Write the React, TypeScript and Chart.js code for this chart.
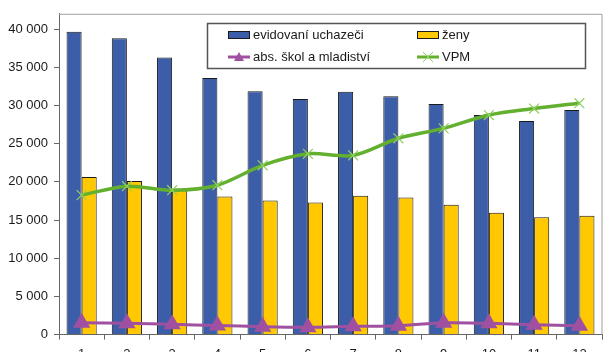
import React, { useEffect, useRef } from 'react';
import { Chart, registerables } from 'chart.js';

Chart.register(...registerables);

const categories = ['1', '2', '3', '4', '5', '6', '7', '8', '9', '10', '11', '12'];
const evidovani = [39650, 38800, 36270, 33580, 31860, 30860, 31800, 31200, 30200, 28740, 27960, 29390];
const zeny = [20640, 20100, 19100, 18090, 17570, 17310, 18170, 17960, 17000, 15960, 15360, 15570];
const absolventi = [1550, 1470, 1340, 1200, 1030, 950, 1080, 1160, 1550, 1470, 1290, 1160];
const vpm = [18260, 19430, 18900, 19560, 22160, 23670, 23450, 25700, 27000, 28740, 29600, 30300];
const seriesLabels = ['evidovaní uchazeči', 'ženy', 'abs. škol a mladiství', 'VPM'];
const yTickValues = [0, 5000, 10000, 15000, 20000, 25000, 30000, 35000, 40000];
const yMax = 42000;

const BLUE = '#3c5ea9';
const YELLOW = '#ffc800';
const PURPLE = '#a050a0';
const GREEN = '#63b02f';
const GREEN_MARK = '#8fd060';
const FONT = '"Liberation Sans", Arial, sans-serif';

const fmt = (v: number) => String(v).replace(/\B(?=(\d{3})+(?!\d))/g, ' ');

const framePlugin = {
  id: 'frame',
  afterDraw(chart: any) {
    const { ctx, chartArea } = chart;
    ctx.save();
    ctx.strokeStyle = '#a0a0a0';
    ctx.lineWidth = 1;
    ctx.beginPath();
    ctx.moveTo(chartArea.left, chartArea.top + 0.5);
    ctx.lineTo(chartArea.right, chartArea.top + 0.5);
    ctx.lineTo(chartArea.right, chartArea.bottom);
    ctx.stroke();

    // legend box
    const bx = 207.5, by = 23.5, bw = 378, bh = 45;
    ctx.fillStyle = '#ffffff';
    ctx.fillRect(bx, by, bw, bh);
    ctx.strokeStyle = '#555555';
    ctx.lineWidth = 1.5;
    ctx.strokeRect(bx, by, bw, bh);

    const items = [
      { x: 228, y: 35, type: 'bar', color: BLUE, label: seriesLabels[0] },
      { x: 417, y: 35, type: 'bar', color: YELLOW, label: seriesLabels[1] },
      { x: 228, y: 57, type: 'tri', color: PURPLE, label: seriesLabels[2] },
      { x: 417, y: 57, type: 'x', color: GREEN, label: seriesLabels[3] },
    ];
    ctx.font = `13px ${FONT}`;
    ctx.textBaseline = 'middle';
    ctx.textAlign = 'left';
    for (const it of items) {
      if (it.type === 'bar') {
        ctx.fillStyle = it.color;
        ctx.fillRect(it.x, it.y - 3.5, 22, 7);
        ctx.strokeStyle = '#1a1a1a';
        ctx.lineWidth = 1;
        ctx.strokeRect(it.x + 0.5, it.y - 3.5, 21, 7);
      } else {
        ctx.strokeStyle = it.color;
        ctx.lineWidth = 3;
        ctx.beginPath();
        ctx.moveTo(it.x, it.y);
        ctx.lineTo(it.x + 22, it.y);
        ctx.stroke();
        const cx = it.x + 11;
        if (it.type === 'tri') {
          ctx.fillStyle = it.color;
          ctx.beginPath();
          ctx.moveTo(cx, it.y - 5);
          ctx.lineTo(cx + 5, it.y + 4);
          ctx.lineTo(cx - 5, it.y + 4);
          ctx.closePath();
          ctx.fill();
        } else {
          ctx.strokeStyle = GREEN_MARK;
          ctx.lineWidth = 1;
          ctx.beginPath();
          ctx.moveTo(cx - 5, it.y - 5);
          ctx.lineTo(cx + 5, it.y + 5);
          ctx.moveTo(cx + 5, it.y - 5);
          ctx.lineTo(cx - 5, it.y + 5);
          ctx.stroke();
        }
      }
      ctx.fillStyle = '#1a1a1a';
      ctx.fillText(it.label, it.x + 25, it.y + 0.5);
    }
    ctx.restore();
  },
};

export default function App() {
  const ref = useRef<HTMLCanvasElement | null>(null);

  useEffect(() => {
    if (!ref.current) return;
    const chart = new Chart(ref.current, {
      type: 'bar',
      data: {
        labels: categories,
        datasets: [
          {
            type: 'bar',
            label: seriesLabels[0],
            data: evidovani,
            backgroundColor: BLUE,
            borderColor: '#1a1a1a',
            borderWidth: 1,
            categoryPercentage: 2 / 3,
            barPercentage: 1,
            order: 2,
          },
          {
            type: 'bar',
            label: seriesLabels[1],
            data: zeny,
            backgroundColor: YELLOW,
            borderColor: '#1a1a1a',
            borderWidth: 1,
            categoryPercentage: 2 / 3,
            barPercentage: 1,
            order: 2,
          },
          {
            type: 'line',
            label: seriesLabels[2],
            data: absolventi,
            borderColor: PURPLE,
            backgroundColor: PURPLE,
            borderWidth: 3,
            pointStyle: 'triangle',
            pointRadius: 7,
            pointBackgroundColor: PURPLE,
            pointBorderColor: PURPLE,
            tension: 0.3,
            order: 1,
          },
          {
            type: 'line',
            label: seriesLabels[3],
            data: vpm,
            borderColor: GREEN,
            backgroundColor: GREEN,
            borderWidth: 3.5,
            pointStyle: 'crossRot',
            pointRadius: 7,
            pointBorderColor: GREEN_MARK,
            pointBorderWidth: 1.2,
            tension: 0.3,
            order: 0,
          },
        ],
      } as any,
      options: {
        responsive: false,
        animation: false,
        devicePixelRatio: 1,
        layout: { padding: { left: 0, right: 5, top: 11, bottom: 0 } },
        plugins: { legend: { display: false }, tooltip: { enabled: false } },
        scales: {
          x: {
            grid: { offset: true, drawOnChartArea: false, tickLength: 5, color: '#666' },
            border: { color: '#666', width: 1 },
            ticks: { padding: 7, color: '#1a1a1a', font: { family: FONT, size: 13 } },
            afterFit: (s: any) => { s.height = 35.4; },
          },
          y: {
            min: 0,
            max: yMax,
            grid: { drawOnChartArea: false, tickLength: 5, color: '#666' },
            border: { color: '#666', width: 1 },
            ticks: {
              padding: 6,
              color: '#1a1a1a',
              font: { family: FONT, size: 13 },
              callback: (v: any) => fmt(Number(v)),
            },
            afterBuildTicks: (s: any) => { s.ticks = yTickValues.map((v) => ({ value: v })); },
            afterFit: (s: any) => { s.width = 59; },
          },
        },
      } as any,
      plugins: [framePlugin],
    });
    return () => chart.destroy();
  }, []);

  return (
    <div style={{ position: 'fixed', left: 0, top: 0, width: 606, height: 352, overflow: 'hidden', background: '#fff' }}>
      <canvas ref={ref} width={612} height={370} style={{ display: 'block' }} />
    </div>
  );
}
